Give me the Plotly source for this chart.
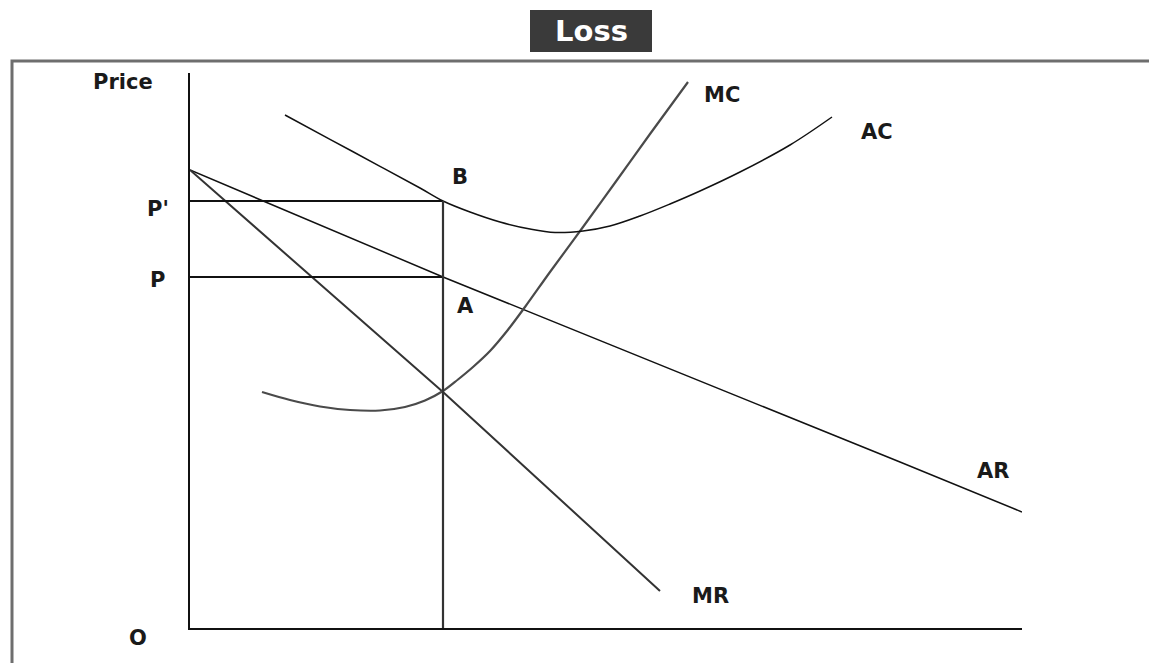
import plotly.graph_objects as go

W, H = 1157, 663
OFF = 8  # page body margin in the browser

# Quantity / price values (arbitrary units)
q_star = 25.3          # output at MR = MC
p_prime = 42.7         # P' (average cost at q*)
p_level = 35.1         # P  (average revenue at q*)

ar_q = [0, 25.3, 71.0, 83.2]
ar_p = [45.8, 35.1, 16.6, 11.6]

mr_q = [0, 25.3, 47.0]
mr_p = [45.8, 23.6, 3.7]

mc_q = [7.2, 10.0, 13.0, 16.0, 19.0, 21.5, 23.5, 25.3, 26.8, 28.3, 30.0, 31.7,
        33.5, 36.0, 39.3, 42.7, 46.0, 49.8]
mc_p = [23.6, 22.8, 22.15, 21.8, 21.75, 22.1, 22.75, 23.7, 24.85, 26.1, 27.7, 29.7,
        32.1, 35.6, 40.1, 44.8, 49.4, 54.6]

ac_q = [9.5, 14.0, 19.0, 23.0, 25.3, 28.0, 31.0, 34.0, 36.5, 39.3, 42.0, 45.0,
        48.0, 51.0, 55.0, 60.0, 64.2]
ac_p = [51.3, 48.87, 46.17, 44.0, 42.7, 41.6, 40.6, 39.9, 39.55, 39.7, 40.2, 41.2,
        42.4, 43.7, 45.6, 48.3, 51.1]

# curve / point labels (inside the axes)
labels = ["B", "A", "MC", "AC", "AR", "MR"]
label_q = [27.0, 27.5, 53.2, 68.7, 80.3, 52.0]
label_p = [45.1, 32.2, 53.3, 49.6, 15.7, 3.2]

# axis labels placed left of / below the axes (pixel positions on the page)
axis_labels = ["Price", "O", "P'", "P"]
axis_label_px = [123, 138, 158, 157]
axis_label_py = [82, 638, 209, 280]

FONT = "DejaVu Sans"


def fx(px):
    return (px - OFF) / W


def fy(py):
    return (H - (py - OFF)) / H


fig = go.Figure()


def add_line(x, y, color="#111111", width=1.6, shape="linear"):
    line = dict(color=color, width=width, shape=shape)
    if shape == "spline":
        line["smoothing"] = 1.0
    fig.add_trace(go.Scatter(x=x, y=y, mode="lines", line=line,
                             hoverinfo="skip", showlegend=False))


# AR and MR
add_line(ar_q, ar_p, width=1.5)
add_line(mr_q, mr_p, color="#333333", width=2)
# MC and AC curves
add_line(mc_q, mc_p, color="#4a4a4a", width=2.2, shape="spline")
add_line(ac_q, ac_p, width=1.5, shape="spline")
# P', P horizontals and vertical at q*
add_line([0, q_star], [p_prime, p_prime], width=2)
add_line([0, q_star], [p_level, p_level], width=2)
add_line([q_star, q_star], [0, p_prime], color="#333333", width=2.2)

lab_font = dict(family=FONT, size=21, color="#1a1a1a", weight="bold")

for t, xq, yp in zip(labels, label_q, label_p):
    fig.add_annotation(x=xq, y=yp, text=t, showarrow=False, font=lab_font,
                       xanchor="center", yanchor="middle")

for t, px, py in zip(axis_labels, axis_label_px, axis_label_py):
    fig.add_annotation(xref="paper", yref="paper", x=fx(px), y=fy(py), text=t,
                       showarrow=False, font=lab_font,
                       xanchor="center", yanchor="middle")

# Title box
fig.add_shape(type="rect", xref="paper", yref="paper",
              x0=fx(530), x1=fx(652), y0=fy(52), y1=fy(10),
              fillcolor="#3a3a3a", line=dict(width=0), layer="below")
fig.add_annotation(xref="paper", yref="paper", x=fx(591), y=fy(31),
                   text="Loss", showarrow=False,
                   font=dict(family=FONT, size=29, color="white", weight="bold"),
                   xanchor="center", yanchor="middle")

# Outer frame
fig.add_shape(type="rect", xref="paper", yref="paper",
              x0=fx(12), x1=fx(1155), y0=-0.05, y1=fy(61),
              line=dict(color="#6e6e6e", width=3), fillcolor="rgba(0,0,0,0)")

fig.update_layout(
    width=W, height=H,
    margin=dict(l=0, r=0, t=0, b=0),
    paper_bgcolor="white", plot_bgcolor="white",
    xaxis=dict(domain=[fx(190), fx(1022)], range=[0, 83.2],
               showgrid=False, zeroline=False, showticklabels=False, ticks="",
               showline=True, linecolor="#111111", linewidth=2, fixedrange=True),
    yaxis=dict(domain=[fy(628), fy(73)], range=[0, 55.5],
               showgrid=False, zeroline=False, showticklabels=False, ticks="",
               showline=True, linecolor="#111111", linewidth=2, fixedrange=True),
)

fig.write_html("out.html")
